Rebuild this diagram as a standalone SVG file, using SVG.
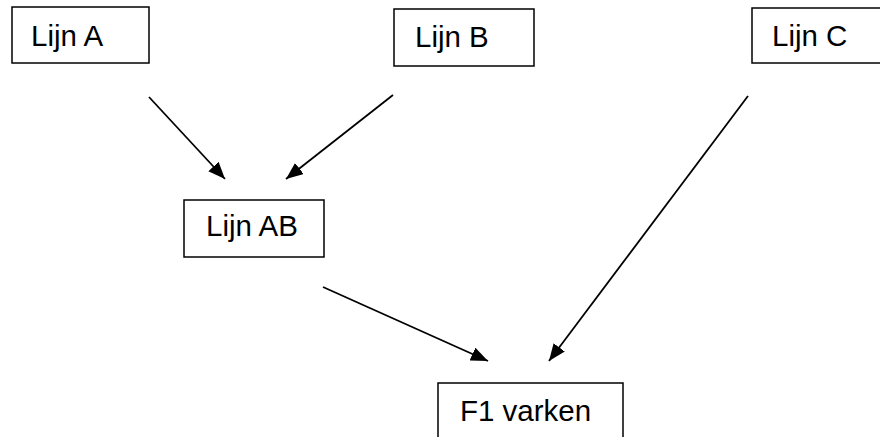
<svg xmlns="http://www.w3.org/2000/svg" width="880" height="437" viewBox="0 0 880 437">
<style>
.box{fill:#fff;stroke:#000;stroke-width:1.5}
.lbl{font-family:"Liberation Sans",Arial,sans-serif;font-size:29.5px;fill:#000}
.edge{stroke:#000;stroke-width:1.8;fill:none;marker-end:url(#ah)}
</style>
<defs>
<marker id="ah" markerUnits="userSpaceOnUse" markerWidth="17" markerHeight="14" refX="17" refY="7" orient="auto">
<path d="M0,0 L17,7 L0,14 z" fill="#000"/>
</marker>
</defs>
<rect width="880" height="437" fill="#fff"/>
<g id="nodeA"><rect class="box" x="12" y="7" width="137" height="56"/><text class="lbl" x="31" y="46">Lijn A</text></g>
<g id="nodeB"><rect class="box" x="394" y="9" width="140" height="57"/><text class="lbl" x="415" y="47">Lijn B</text></g>
<g id="nodeC"><rect class="box" x="752" y="8" width="140" height="55"/><text class="lbl" x="772" y="46">Lijn C</text></g>
<g id="nodeAB"><rect class="box" x="184" y="200" width="140" height="57"/><text class="lbl" x="206" y="236">Lijn AB</text></g>
<g id="nodeF1"><rect class="box" x="438" y="383" width="185" height="70"/><text class="lbl" x="460" y="421">F1 varken</text></g>
<g id="connectors">
<line class="edge" x1="149" y1="97" x2="225" y2="179"/>
<line class="edge" x1="393" y1="95" x2="286" y2="179"/>
<line class="edge" x1="323" y1="287" x2="488" y2="361"/>
<line class="edge" x1="748" y1="96" x2="549" y2="361"/>
</g>
</svg>
